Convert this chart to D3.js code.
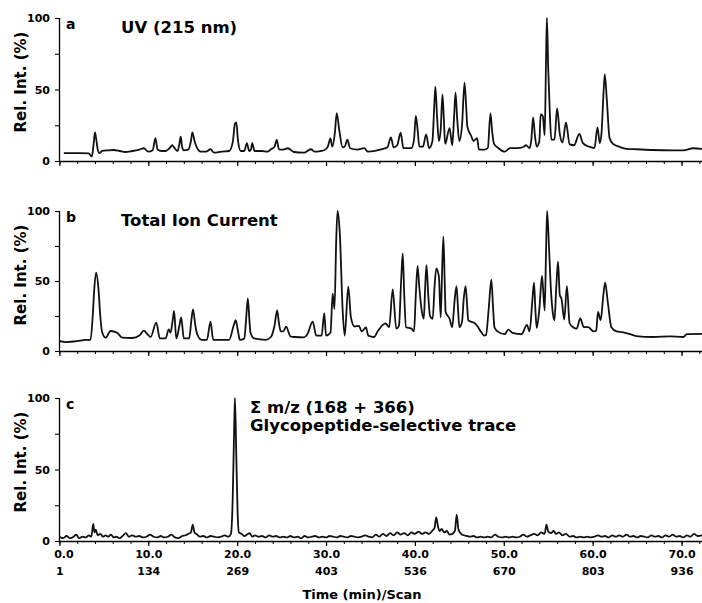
<!DOCTYPE html>
<html>
<head>
<meta charset="utf-8">
<script src="https://cdn.jsdelivr.net/npm/d3@7"></script>
<style>
  html, body { margin: 0; padding: 0; background: #fff; }
  svg { display: block; }
  text { font-family: "DejaVu Sans", sans-serif; font-weight: bold; fill: #000; }
</style>
</head>
<body>
<svg id="chart" width="702" height="603"></svg>
<script>
// ---- Data (time in min, relative intensity in %) ----
const uvTrace = [[0.5,5.5],[3.3,5.4],[3.65,3],[3.85,12],[4.0,20],[4.15,15],[4.3,8.5],[4.5,5.5],[4.8,7],[5.5,7.5],[6.1,7.7],[6.8,7],[7.4,6.3],[8.2,7],[9.0,8],[9.5,8.9],[10.0,6.5],[10.5,7.5],[10.8,16],[11.05,8],[11.5,7],[11.95,7],[12.4,9],[12.7,11],[12.9,9.5],[13.3,7],[13.5,12],[13.65,17],[13.8,10],[14.0,7.5],[14.5,8],[14.8,14],[14.96,20],[15.2,14],[15.5,9],[15.9,6.5],[16.5,6.5],[17.0,8.2],[17.4,5.8],[18.2,6.5],[19.1,7],[19.5,13],[19.75,26],[19.9,27],[20.1,14],[20.4,7],[20.8,7],[21.1,12.5],[21.35,7],[21.55,8],[21.7,12.4],[21.95,7],[22.8,7],[23.4,6.5],[23.8,8.2],[24.2,10],[24.46,14.7],[24.7,8.2],[25.2,8],[25.7,8.9],[26.4,6.3],[27.5,5.8],[28.3,8.2],[28.7,6.5],[29.4,7],[29.8,7.5],[30.2,10],[30.5,15.8],[30.7,10],[31.0,20],[31.2,33.5],[31.5,21],[31.87,9.6],[32.1,10],[32.4,15],[32.7,8.9],[33.5,8],[34.3,9],[34.7,6.5],[35.5,7],[36.2,8.2],[36.9,9.6],[37.3,16.5],[37.6,9.5],[38.0,11],[38.4,19.8],[38.7,9],[39.6,9],[39.9,15],[40.1,31.5],[40.3,22],[40.5,10],[40.9,10],[41.26,18.6],[41.6,9],[41.97,14],[42.15,35],[42.3,52],[42.5,30],[42.7,14],[42.9,22],[43.1,46.6],[43.25,30],[43.4,12],[43.9,23],[44.2,11],[44.4,30],[44.57,47.8],[44.75,30],[45.0,14],[45.3,25],[45.58,54.8],[45.75,40],[45.9,24],[46.3,18],[46.6,14],[47.0,16],[47.2,8],[47.8,8],[48.2,9],[48.5,33.3],[48.7,20],[48.9,12],[49.4,9],[50.1,6.5],[50.7,9],[51.5,9],[52.2,9.8],[52.5,11],[52.9,9],[53.1,15],[53.3,30.5],[53.5,18],[53.7,10],[54.0,14],[54.15,32.8],[54.4,31],[54.6,18],[54.75,70],[54.85,100],[55.0,64],[55.2,30],[55.35,15],[55.7,15],[56.0,36.8],[56.3,19],[56.6,13],[57.0,27],[57.4,11.8],[57.9,11],[58.5,18.9],[58.9,12.5],[59.6,10],[60.2,9],[60.54,23.5],[60.8,12.5],[61.0,20],[61.2,45],[61.36,60.6],[61.6,42],[61.9,16],[62.3,12],[63.06,9.8],[63.8,8.5],[64.9,8.2],[66.8,7.7],[69.06,7.5],[70.2,7.5],[71.3,8.9],[72.3,8.5]];

const ticTrace = [[0.0,7],[0.7,6.4],[2.0,7],[2.9,7.9],[3.5,8],[3.75,25],[3.9,42],[4.13,56],[4.4,44],[4.6,25],[4.8,13.8],[5.2,9.5],[5.75,14.3],[6.5,13],[7.07,9.5],[8.2,9.3],[9.0,11],[9.5,14.5],[9.9,12],[10.26,10],[10.9,20.2],[11.3,9],[11.95,9],[12.3,15.5],[12.5,13],[12.75,22],[12.9,28.6],[13.15,9],[13.5,18],[13.7,24],[14.0,9],[14.6,9],[14.85,22],[15.03,29.8],[15.3,18],[15.5,12],[16.0,8],[16.6,8],[17.0,21],[17.3,8],[18.5,8],[19.1,8],[19.6,18],[19.84,22],[20.1,14],[20.3,8],[20.8,9],[21.0,22],[21.2,37.6],[21.4,20],[21.5,13],[21.9,9],[23.2,8],[23.8,10],[24.2,18],[24.5,29],[24.7,20],[24.9,14],[25.2,14],[25.5,17.4],[26.0,10.5],[26.5,10],[27.5,9.8],[27.9,12],[28.5,21],[28.9,11],[29.5,11],[29.8,27],[30.0,11],[30.5,13],[30.75,41],[30.95,30],[31.15,80],[31.3,100],[31.55,84],[31.87,29],[32.1,11],[32.5,46],[32.8,24],[33.2,17.5],[33.7,18],[34.0,14],[34.5,16.8],[34.75,11],[35.4,10],[35.8,14],[36.7,19.8],[37.1,17],[37.5,44],[37.9,16],[38.2,18],[38.45,50],[38.63,69.8],[38.8,40],[39.0,17],[39.6,16],[39.9,14],[40.1,40],[40.3,60.7],[40.5,45],[40.76,29],[41.0,23],[41.15,45],[41.3,61.4],[41.5,40],[41.7,25],[42.0,23],[42.2,45],[42.4,59],[42.7,53],[42.9,24],[43.05,55],[43.2,81.7],[43.35,50],[43.45,28],[43.9,23],[44.2,17],[44.45,35],[44.68,46.4],[44.85,30],[45.0,17],[45.3,21],[45.5,38],[45.7,46.4],[45.85,35],[46.0,22],[46.3,21],[46.7,20],[47.0,18],[47.4,14],[47.8,11],[48.0,11.4],[48.3,30],[48.6,51],[48.8,30],[48.95,17],[49.3,14],[50.1,12],[50.5,15.2],[51.0,13],[52.0,12],[52.6,18.6],[52.9,14],[53.2,35],[53.4,48.8],[53.55,30],[53.7,16.5],[54.0,30],[54.3,53.6],[54.6,29],[54.75,70],[54.87,100],[55.1,72],[55.3,44],[55.5,28],[55.7,22],[55.9,45],[56.1,63.8],[56.3,40],[56.5,37],[56.8,22.5],[57.1,46.4],[57.4,20],[57.8,17],[58.2,16],[58.6,23.3],[59.0,17],[59.5,17],[60.1,14],[60.4,14.5],[60.6,28],[60.9,22],[61.2,40],[61.4,48.8],[61.7,35],[62.1,17],[62.7,14],[63.3,13.5],[64.2,12],[64.9,10.7],[66.8,10],[68.7,10.5],[70.2,10],[70.6,12],[72.3,12.2]];

const glycoTrace = [[0.0,3],[0.4,2],[0.8,3.5],[1.2,2],[1.6,3],[1.9,4.5],[2.2,2],[2.6,3],[3.0,2.5],[3.3,4],[3.6,3],[3.8,12],[3.95,6],[4.1,8],[4.3,4],[4.6,5],[4.9,3],[5.2,4],[5.5,3],[5.8,4.5],[6.1,2.5],[6.4,3],[6.8,2],[7.1,3.5],[7.5,5.5],[7.8,3],[8.2,4],[8.6,3],[9.0,3.5],[9.4,2.5],[9.8,3],[10.2,4.5],[10.6,3],[11.0,2.5],[11.4,3.5],[11.8,2.5],[12.2,3],[12.6,4.5],[13.0,2.5],[13.4,2],[13.8,3.5],[14.2,4],[14.5,5],[14.8,6],[15.0,11.5],[15.2,6],[15.5,4.5],[15.8,3],[16.2,3.5],[16.6,2.5],[17.0,3.5],[17.4,3],[17.8,2.5],[18.2,3],[18.6,4],[19.0,3],[19.3,5],[19.5,30],[19.65,75],[19.75,100],[19.9,60],[20.05,20],[20.2,6],[20.5,5],[20.8,3.5],[21.1,4.5],[21.4,5.5],[21.7,3],[22.0,4],[22.4,3],[22.8,3.5],[23.2,2.5],[23.6,4],[24.0,3],[24.4,3.5],[24.8,2.5],[25.2,3],[25.6,2.5],[26.0,3.5],[26.4,2.5],[26.8,3],[27.2,2],[27.6,3.5],[28.0,2.5],[28.4,3],[28.8,3.5],[29.2,2.5],[29.6,3],[30.0,2.5],[30.4,3.5],[30.8,3],[31.2,2.5],[31.6,3.5],[32.0,3],[32.4,2.5],[32.8,3.5],[33.2,3],[33.6,2.5],[34.0,3],[34.4,4],[34.8,3],[35.2,2.5],[35.6,4.5],[36.0,3],[36.4,5],[36.8,3.5],[37.2,5.5],[37.6,4],[38.0,6],[38.4,4.5],[38.8,5.5],[39.2,4],[39.6,6],[40.0,5],[40.4,6.5],[40.8,5],[41.2,6],[41.6,5],[42.0,7.5],[42.2,9],[42.4,16.5],[42.6,10],[42.8,7],[43.0,8.5],[43.3,6],[43.6,7],[43.9,4.5],[44.2,5],[44.5,7],[44.7,18.5],[44.9,8],[45.2,5],[45.5,4],[45.8,3.5],[46.2,3],[46.6,3.5],[47.0,2.5],[47.4,3],[47.8,2.5],[48.2,3],[48.6,2.5],[49.0,4.5],[49.4,3],[49.8,2.5],[50.2,3],[50.6,2.5],[51.0,3],[51.4,2.5],[51.8,3],[52.2,4.5],[52.6,3],[53.0,4],[53.4,5],[53.8,4],[54.2,6],[54.6,5],[54.8,11.5],[55.0,6.5],[55.3,5.5],[55.6,7],[55.9,5],[56.2,6],[56.6,4],[57.0,5],[57.4,3],[57.8,3.5],[58.2,2.5],[58.6,3],[59.0,2.5],[59.4,3],[59.8,2.5],[60.2,3],[60.6,4],[61.0,3],[61.4,3.5],[61.8,2.5],[62.2,4],[62.6,3],[63.0,4],[63.4,3],[63.8,4.5],[64.2,3],[64.6,3.5],[65.0,2.5],[65.4,3.5],[65.8,3],[66.2,2.5],[66.6,4],[67.0,3],[67.4,3.5],[67.8,2.5],[68.2,4],[68.6,3],[69.0,4.5],[69.4,3],[69.8,3.5],[70.2,2.5],[70.6,4],[71.0,3],[71.4,5],[71.8,3.5],[72.3,4]];

const timeTicks = [0, 10, 20, 30, 40, 50, 60, 70];
const timeLabels = ["0.0", "10.0", "20.0", "30.0", "40.0", "50.0", "60.0", "70.0"];
const scanLabels = ["1", "134", "269", "403", "536", "670", "803", "936"];
const minorTicks = d3.range(0, 73, 2);
const yTicks = [0, 25, 50, 75, 100];
const yLabels = { 0: "0", 50: "50", 100: "100" };

const panels = [
  { key: "a", title: ["UV (215 nm)"], data: uvTrace, top: 18, bottom: 161 },
  { key: "b", title: ["Total Ion Current"], data: ticTrace, top: 211, bottom: 351 },
  { key: "c", title: ["\u03A3 m/z (168 + 366)", "Glycopeptide-selective trace"], data: glycoTrace, top: 398, bottom: 541 }
];

// ---- Drawing ----
const svg = d3.select("#chart");
const x = d3.scaleLinear().domain([0, 72.3]).range([59.4, 702]);

panels.forEach((p, i) => {
  const y = d3.scaleLinear().domain([0, 100]).range([p.bottom, p.top]);
  const g = svg.append("g");

  // x axis: minor ticks
  const xMinor = g.append("g").attr("transform", `translate(0,${p.bottom})`)
    .call(d3.axisBottom(x).tickValues(minorTicks).tickSize(3).tickFormat(""));
  xMinor.select(".domain").attr("stroke", "#000").attr("stroke-width", 1.3).attr("d", `M59,0.5H702`);
  xMinor.selectAll(".tick line").attr("stroke", "#000").attr("stroke-width", 1);

  // x axis: major ticks
  const xMajor = g.append("g").attr("transform", `translate(0,${p.bottom})`)
    .call(d3.axisBottom(x).tickValues(timeTicks).tickSize(5)
      .tickFormat((d, k) => i === 2 ? timeLabels[k] : ""));
  xMajor.select(".domain").remove();
  xMajor.selectAll(".tick line").attr("stroke", "#000").attr("stroke-width", 1.2);
  xMajor.selectAll(".tick text").attr("font-size", 11).attr("y", 9)
    .attr("font-family", "DejaVu Sans").attr("font-weight", "bold").attr("fill", "#000")
    .attr("dx", (d, k) => k === 0 ? 4 : 0);

  if (i === 2) {
    const xScan = g.append("g").attr("transform", `translate(0,${p.bottom})`)
      .call(d3.axisBottom(x).tickValues(timeTicks).tickSize(0)
        .tickFormat((d, k) => scanLabels[k]));
    xScan.select(".domain").remove();
    xScan.selectAll(".tick text").attr("font-size", 11).attr("y", 26)
      .attr("font-family", "DejaVu Sans").attr("font-weight", "bold").attr("fill", "#000");
  }

  // y axis
  const yAx = g.append("g").attr("transform", `translate(59,0)`)
    .call(d3.axisLeft(y).tickValues(yTicks).tickSize(4)
      .tickFormat(d => yLabels[d] !== undefined ? yLabels[d] : ""));
  yAx.select(".domain").attr("stroke", "#000").attr("stroke-width", 1.3)
    .attr("d", `M0.5,${p.bottom}V${p.top}`);
  yAx.selectAll(".tick line").attr("stroke", "#000").attr("stroke-width", 1.1);
  yAx.selectAll(".tick text").attr("font-size", 11).attr("x", -9)
    .attr("font-family", "DejaVu Sans").attr("font-weight", "bold").attr("fill", "#000");

  // y label
  g.append("text")
    .attr("transform", `translate(26,${p.top + 64}) rotate(-90)`)
    .attr("text-anchor", "middle")
    .attr("font-size", 15)
    .text("Rel. Int. (%)");

  // trace
  const line = d3.line().x(d => x(d[0])).y(d => y(d[1])).curve(d3.curveMonotoneX);
  g.append("path")
    .datum(p.data)
    .attr("fill", "none")
    .attr("stroke", "#111")
    .attr("stroke-width", 1.8)
    .attr("stroke-linejoin", "round")
    .attr("d", line);

  // panel letter
  g.append("text")
    .attr("x", 66).attr("y", p.top + 11)
    .attr("font-size", 14)
    .attr("font-weight", "normal")
    .text(p.key);

  // title(s)
  if (i < 2) {
    g.append("text").attr("x", 121).attr("y", p.top + 14.5)
      .attr("font-size", 16.5).text(p.title[0]);
  } else {
    g.append("text").attr("x", 250).attr("y", p.top + 15)
      .attr("font-size", 16.5).text(p.title[0]);
    g.append("text").attr("x", 250).attr("y", p.top + 32.5)
      .attr("font-size", 16.5).text(p.title[1]);
  }
});

svg.append("text")
  .attr("x", 362).attr("y", 599)
  .attr("text-anchor", "middle")
  .attr("font-size", 13)
  .text("Time (min)/Scan");
</script>
</body>
</html>
